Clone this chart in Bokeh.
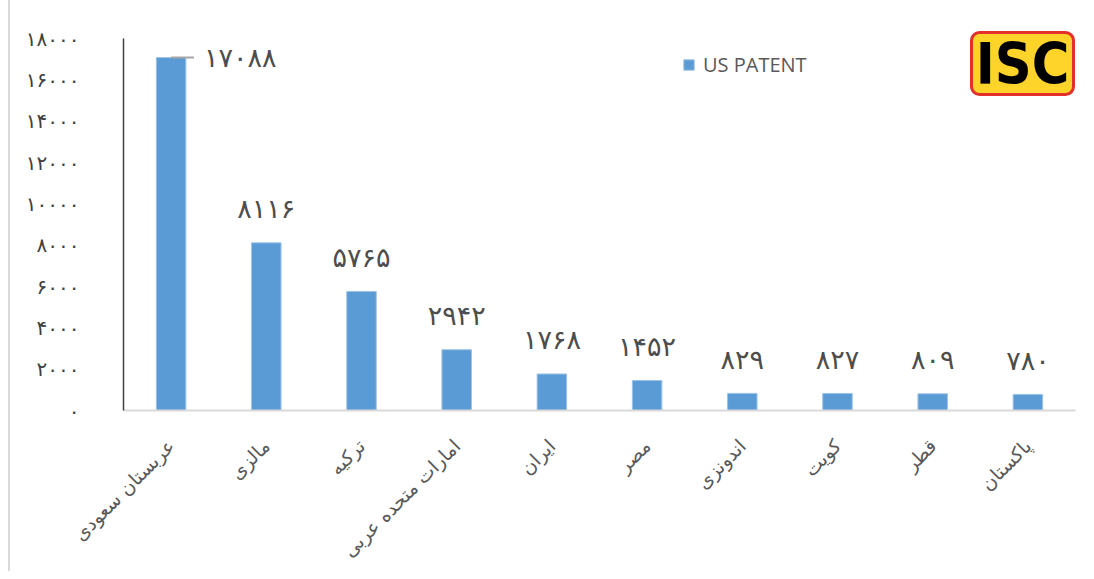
import math
from bokeh.plotting import figure
from bokeh.models import ColumnDataSource, FactorRange, Range1d, FixedTicker, Label, BoxAnnotation
from bokeh.transform import dodge
from bokeh.core.properties import value
from bokeh.embed import file_html
from bokeh.resources import INLINE

# ---- data ----
countries = ["عربستان سعودی", "مالزی", "ترکیه", "امارات متحده عربی", "ایران",
             "مصر", "اندونزی", "کویت", "قطر", "پاکستان"]
patents = [17088, 8116, 5765, 2942, 1768, 1452, 829, 827, 809, 780]
patent_labels = ["۱۷۰۸۸", "۸۱۱۶", "۵۷۶۵", "۲۹۴۲", "۱۷۶۸", "۱۴۵۲", "۸۲۹", "۸۲۷", "۸۰۹", "۷۸۰"]
y_ticks = [0, 2000, 4000, 6000, 8000, 10000, 12000, 14000, 16000, 18000]
y_tick_labels = ["۰", "۲۰۰۰", "۴۰۰۰", "۶۰۰۰", "۸۰۰۰", "۱۰۰۰۰", "۱۲۰۰۰", "۱۴۰۰۰", "۱۶۰۰۰", "۱۸۰۰۰"]
series_name = "US PATENT"
logo_text = "ISC"

src = ColumnDataSource(dict(country=countries, n=patents, lbl=patent_labels))
src_top = ColumnDataSource(dict(country=countries[:1], n=patents[:1], lbl=patent_labels[:1]))
src_rest = ColumnDataSource(dict(country=countries[1:], n=patents[1:], lbl=patent_labels[1:]))

p = figure(width=1086, height=571, output_backend="svg", toolbar_location=None,
           x_range=FactorRange(factors=countries), y_range=Range1d(0, 18880),
           min_border_left=123, min_border_right=11, min_border_top=20, min_border_bottom=160)
p.outline_line_color = None
p.xgrid.grid_line_color = None
p.ygrid.grid_line_color = None
p.border_fill_color = None
p.styles = {"box-shadow": "inset 8px 0 0 0 #ffffff, inset 10px 0 0 0 #d9d9d9"}

p.vbar(x="country", top="n", width=0.31, source=src, fill_color="#5B9BD5",
       line_color="#9DC3E6", line_width=1, legend_label=series_name)

# data labels
p.text(x="country", y="n", text="lbl", source=src_rest, text_align="center",
       text_baseline="alphabetic", y_offset=-34, text_font=value("DejaVu Sans"),
       text_font_size="27px", text_color="#4d4d4d")
p.text(x="country", y="n", text="lbl", source=src_top, text_align="left",
       text_baseline="middle", x_offset=33, text_font=value("DejaVu Sans"),
       text_font_size="27px", text_color="#4d4d4d")
p.segment(x0="country", y0="n", x1=dodge("country", 0.24, range=p.x_range), y1="n",
          source=src_top, line_color="#a6a6a6", line_width=2)

# axes
yax = p.yaxis[0]
yax.ticker = FixedTicker(ticks=y_ticks)
yax.bounds = (y_ticks[0], y_ticks[-1])
yax.major_label_overrides = {t: l for t, l in zip(y_ticks, y_tick_labels)}
yax.major_tick_line_color = None
yax.minor_tick_line_color = None
yax.axis_line_color = "#404040"
yax.axis_line_width = 1.5
yax.major_label_standoff = 38
yax.major_label_text_font = "DejaVu Sans"
yax.major_label_text_font_size = "20px"
yax.major_label_text_color = "#404040"

xax = p.xaxis[0]
xax.major_tick_line_color = None
xax.minor_tick_line_color = None
xax.axis_line_color = "#d9d9d9"
xax.axis_line_width = 2
xax.major_label_orientation = math.pi / 4
xax.major_label_standoff = 26
xax.major_label_text_font = "DejaVu Sans"
xax.major_label_text_font_size = "19px"
xax.major_label_text_color = "#595959"

# legend
lg = p.legend[0]
lg.location = (559, 332)
lg.padding = 0
lg.margin = 0
lg.spacing = 0
lg.border_line_color = None
lg.background_fill_alpha = 0
lg.glyph_width = 13
lg.glyph_height = 13
lg.label_standoff = 8
lg.label_text_font = "Open Sans"
lg.label_text_font_size = "20px"
lg.label_text_color = "#595959"

# logo
logo_box = BoxAnnotation(left=848, right=950, top=378, bottom=316,
                         left_units="screen", right_units="screen",
                         top_units="screen", bottom_units="screen",
                         fill_color="#FFD42A", fill_alpha=1.0,
                         line_color="#E3302A", line_alpha=1.0, line_width=3,
                         border_radius=8)
p.add_layout(logo_box)
logo = Label(x=899, y=347, x_units="screen", y_units="screen", text=logo_text,
             text_align="center", text_baseline="middle",
             text_font="DejaVu Sans Condensed", text_font_style="bold",
             text_font_size="57px", text_color="black")
p.add_layout(logo)

open("out.html", "w").write(file_html(p, INLINE))
